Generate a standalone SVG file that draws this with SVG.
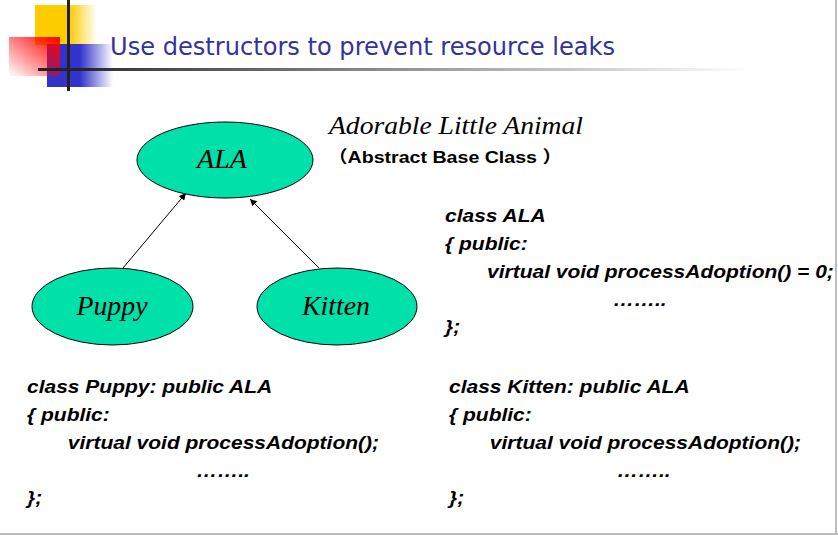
<svg xmlns="http://www.w3.org/2000/svg" width="838" height="535" viewBox="0 0 838 535">
<defs>
<linearGradient id="gY" x1="0" y1="0" x2="1" y2="0"><stop offset="0" stop-color="#FFCC00"/><stop offset="0.55" stop-color="#FFCC00"/><stop offset="1" stop-color="#FFCC00" stop-opacity="0"/></linearGradient>
<linearGradient id="gB" x1="0" y1="0" x2="1" y2="0"><stop offset="0" stop-color="#3333CC"/><stop offset="0.5" stop-color="#3333CC"/><stop offset="1" stop-color="#3333CC" stop-opacity="0"/></linearGradient>
<linearGradient id="gR" x1="1" y1="0" x2="0" y2="1"><stop offset="0" stop-color="#FF0000"/><stop offset="1" stop-color="#FF0000" stop-opacity="0"/></linearGradient>
<linearGradient id="gL" x1="0" y1="0" x2="1" y2="0"><stop offset="0" stop-color="#222222"/><stop offset="1" stop-color="#222222" stop-opacity="0"/></linearGradient>
<marker id="ah" viewBox="0 0 10 10" refX="10" refY="5" markerWidth="7" markerHeight="7" orient="auto" markerUnits="userSpaceOnUse"><path d="M0,0 L10,5 L0,10 z" fill="#000"/></marker>
<style>
.node{fill:#00E1AA;stroke:#000;stroke-width:1}
.lbl{font-family:"Liberation Serif",serif;font-style:italic;font-size:27px;fill:#000;text-anchor:middle}
.code{font-family:"Liberation Sans",Arial,sans-serif;font-weight:bold;font-style:italic;font-size:17.5px;fill:#000}
.conn line{stroke:#000;stroke-width:1}
</style>
</defs>
<rect width="838" height="535" fill="#fff"/>
<g id="decor">
<rect x="35" y="5" width="62" height="40" fill="url(#gY)"/>
<rect x="47" y="44" width="66" height="43" fill="url(#gB)"/>
<rect x="9" y="37" width="51" height="39" fill="url(#gR)"/>
<rect x="67" y="0" width="3" height="91" fill="#222"/>
<rect x="38" y="68" width="712" height="3" fill="url(#gL)"/>
</g>
<text x="110" y="55" font-family="'DejaVu Sans',sans-serif" font-size="24" fill="#333399" textLength="505" lengthAdjust="spacingAndGlyphs">Use destructors to prevent resource leaks</text>
<g class="conn" id="connectors">
<line x1="123" y1="268" x2="186" y2="193" marker-end="url(#ah)"/>
<line x1="319" y1="268" x2="250" y2="199" marker-end="url(#ah)"/>
</g>
<g id="ALA"><ellipse class="node" cx="225" cy="160" rx="88" ry="38"/><text class="lbl" x="222" y="168" textLength="50" lengthAdjust="spacingAndGlyphs">ALA</text></g>
<g id="Puppy"><ellipse class="node" cx="112.5" cy="306.5" rx="80.5" ry="38.5"/><text class="lbl" x="112" y="315" textLength="71" lengthAdjust="spacingAndGlyphs">Puppy</text></g>
<g id="Kitten"><ellipse class="node" cx="337" cy="306.5" rx="80" ry="38.5"/><text class="lbl" x="336" y="315" textLength="68" lengthAdjust="spacingAndGlyphs">Kitten</text></g>
<text x="329" y="134" font-family="'Liberation Serif',serif" font-style="italic" font-size="26" textLength="254" lengthAdjust="spacingAndGlyphs">Adorable Little Animal</text>
<text x="328" y="163" font-family="'Liberation Sans','Noto Sans CJK SC',sans-serif" font-weight="bold" font-size="17" textLength="234" lengthAdjust="spacingAndGlyphs">（Abstract Base Class ）</text>
<g class="code" transform="translate(445,0) scale(1.2,1)">
<text x="0" y="222">class ALA</text>
<text x="0" y="250">{ public:</text>
<text x="35" y="278">virtual void processAdoption() = 0;</text>
<text x="140" y="306">……..</text>
<text x="0" y="333">};</text>
</g>
<g class="code" transform="translate(27,0) scale(1.2,1)">
<text x="0" y="393">class Puppy: public ALA</text>
<text x="0" y="421">{ public:</text>
<text x="34" y="449">virtual void processAdoption();</text>
<text x="141" y="477">……..</text>
<text x="0" y="504">};</text>
</g>
<g class="code" transform="translate(449,0) scale(1.2,1)">
<text x="0" y="393">class Kitten: public ALA</text>
<text x="0" y="421">{ public:</text>
<text x="34" y="449">virtual void processAdoption();</text>
<text x="140" y="477">……..</text>
<text x="0" y="504">};</text>
</g>
<line x1="836" y1="0" x2="836" y2="535" stroke="#bbb" stroke-width="2"/>
<line x1="0" y1="534" x2="838" y2="534" stroke="#bbb" stroke-width="2"/>
</svg>
